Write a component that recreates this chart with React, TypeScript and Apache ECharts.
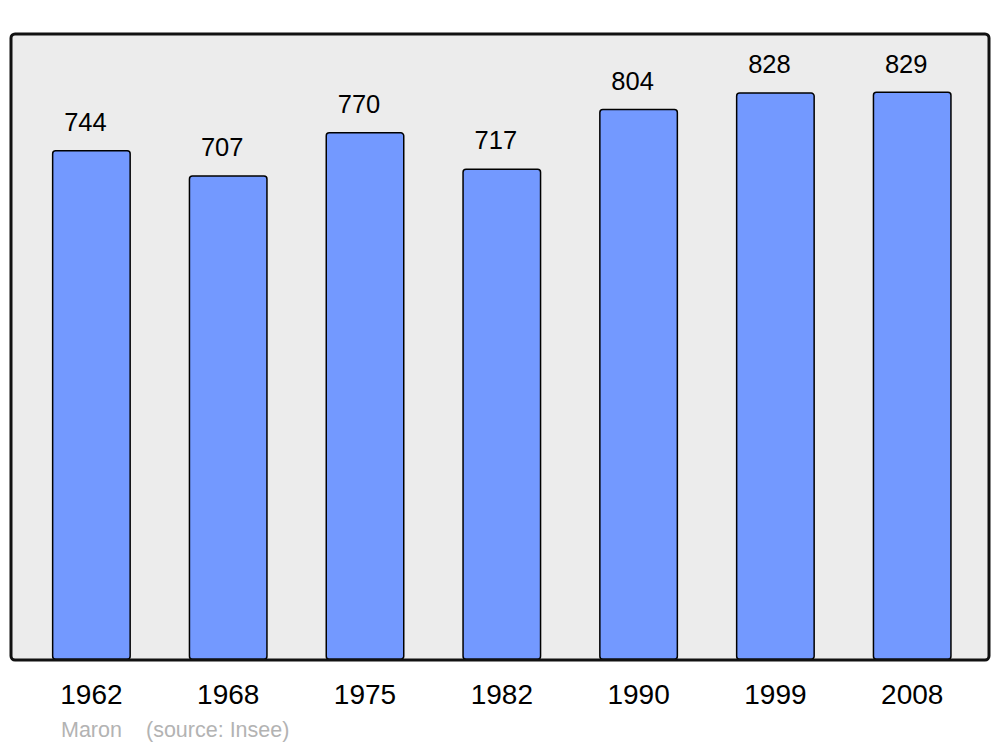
import React, { useEffect, useRef } from "react";
import * as echarts from "echarts";

const years = ["1962", "1968", "1975", "1982", "1990", "1999", "2008"];
const population = [744, 707, 770, 717, 804, 828, 829];
const authorLabel = "Maron";
const sourceLabel = "(source: Insee)";

export default function App() {
  const ref = useRef<HTMLDivElement>(null);
  useEffect(() => {
    document.body.style.margin = "0";
    const chart = echarts.init(ref.current!, null, { renderer: "svg" });
    chart.setOption({
      animation: false,
      backgroundColor: "#ffffff",
      textStyle: { fontFamily: "Liberation Sans" },
      grid: { left: 23, right: 19.4, top: 34, bottom: 87, containLabel: false },
      xAxis: {
        type: "category",
        data: years,
        axisLine: { show: false },
        axisTick: { show: false },
        axisLabel: { color: "#000", fontSize: 28, margin: 20, fontFamily: "Liberation Sans" },
      },
      yAxis: {
        type: "value",
        min: 0,
        max: 913,
        show: false,
        splitLine: { show: false },
      },
      graphic: [
        {
          type: "rect",
          z: -10,
          shape: { x: 11, y: 34, width: 978, height: 626, r: 4 },
          style: { fill: "#ececec", stroke: "none" },
        },
        {
          type: "rect",
          z: 100,
          shape: { x: 11, y: 34, width: 978, height: 626, r: 4 },
          style: { fill: "none", stroke: "#111", lineWidth: 3 },
          silent: true,
        },
        {
          type: "text",
          x: 61,
          y: 730,
          style: {
            text: authorLabel,
            fill: "#b3b3b3",
            font: "21.5px 'Liberation Sans'",
            verticalAlign: "middle",
            align: "left",
          },
        },
        {
          type: "text",
          x: 146,
          y: 730,
          style: {
            text: sourceLabel,
            fill: "#b3b3b3",
            font: "21.5px 'Liberation Sans'",
            verticalAlign: "middle",
            align: "left",
          },
        },
      ],
      series: [
        {
          type: "bar",
          data: population,
          barWidth: 79,
          itemStyle: {
            color: "#7399ff",
            borderColor: "#000",
            borderWidth: 1.5,
            borderRadius: 3,
          },
          label: {
            show: true,
            position: "top",
            distance: 15,
            offset: [-6, 0],
            color: "#000",
            fontSize: 25.5,
            fontFamily: "Liberation Sans",
          },
        },
      ],
    });
    return () => chart.dispose();
  }, []);
  return <div ref={ref} style={{ width: 1000, height: 747 }} />;
}
